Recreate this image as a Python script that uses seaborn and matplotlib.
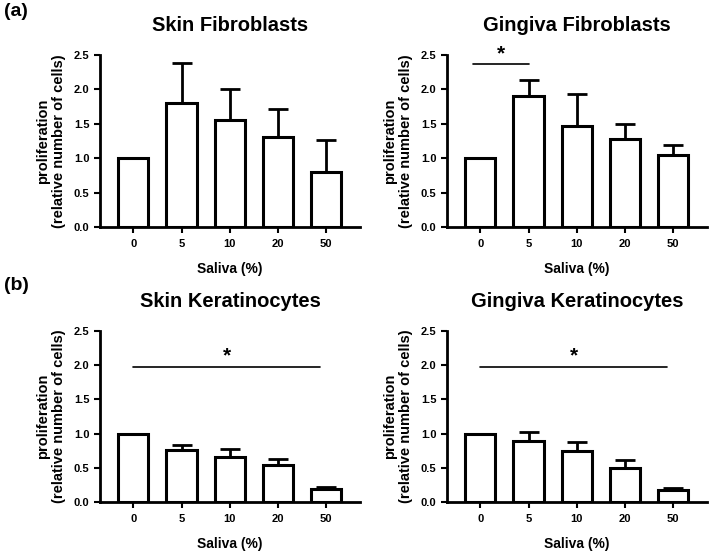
import numpy as np
import pandas as pd
import matplotlib
matplotlib.use("Agg")
import matplotlib.pyplot as plt
import seaborn as sns

# ---- data ----
SALIVA = ["0", "5", "10", "20", "50"]

skin_fib_mean = [1.00, 1.80, 1.55, 1.31, 0.80]
skin_fib_top = [1.00, 2.39, 2.01, 1.72, 1.26]

ging_fib_mean = [1.00, 1.90, 1.47, 1.28, 1.05]
ging_fib_top = [1.00, 2.13, 1.93, 1.50, 1.19]

skin_ker_mean = [1.00, 0.76, 0.66, 0.54, 0.19]
skin_ker_top = [1.00, 0.84, 0.77, 0.63, 0.22]

ging_ker_mean = [1.00, 0.89, 0.75, 0.49, 0.17]
ging_ker_top = [1.00, 1.02, 0.88, 0.61, 0.21]

TITLES = ["Skin Fibroblasts", "Gingiva Fibroblasts",
          "Skin Keratinocytes", "Gingiva Keratinocytes"]
MEANS = [skin_fib_mean, ging_fib_mean, skin_ker_mean, ging_ker_mean]
TOPS = [skin_fib_top, ging_fib_top, skin_ker_top, ging_ker_top]

# significance lines: (start, end, height)
SIG = [None, (-0.15, 1.0, 2.37), (0.0, 3.87, 1.98), (0.0, 3.87, 1.98)]

sns.set_theme(style="ticks")
plt.rcParams["font.family"] = ["Liberation Sans", "DejaVu Sans"]
plt.rcParams["font.weight"] = "bold"
for k in ["text.color", "axes.labelcolor", "xtick.color", "ytick.color",
          "axes.edgecolor"]:
    plt.rcParams[k] = "black"

fig = plt.figure(figsize=(7.09, 5.52), dpi=100)
W, H = 709, 552
boxes = [(100, 55, 360, 227), (447, 55, 707, 227),
         (100, 331, 360, 502), (447, 331, 707, 502)]

for i, (l, t, r, b) in enumerate(boxes):
    ax = fig.add_axes([l / W, 1 - b / H, (r - l) / W, (b - t) / H])
    df = pd.DataFrame({"saliva": SALIVA, "value": MEANS[i]})
    sns.barplot(data=df, x="saliva", y="value", order=SALIVA, color="white",
                edgecolor="black", linewidth=2.2, width=0.63, ax=ax,
                errorbar=None, zorder=2)
    pos = np.arange(len(SALIVA))
    err = np.array(TOPS[i]) - np.array(MEANS[i])
    mask = err > 0.001
    ax.errorbar(pos[mask], np.array(MEANS[i])[mask],
                yerr=[np.zeros(mask.sum()), err[mask]], fmt="none",
                ecolor="black", elinewidth=2.0, capsize=7, capthick=2.0,
                zorder=1)
    if SIG[i] is not None:
        x0, x1, y = SIG[i]
        ax.plot([x0, x1], [y, y], color="black", lw=1.2, clip_on=False)
        ax.text((x0 + x1) / 2, y + 0.01, "*", ha="center", va="bottom",
                fontsize=15, fontweight="bold")

    ax.set_xlim(-0.69, 4.7)
    ax.set_ylim(0, 2.5)
    ax.set_yticks([0, 0.5, 1.0, 1.5, 2.0, 2.5])
    ax.set_yticklabels(["0.0", "0.5", "1.0", "1.5", "2.0", "2.5"])
    ax.tick_params(axis="both", labelsize=8, width=1.5, length=4,
                   direction="out")
    ax.tick_params(axis="x", pad=5)
    for lab in ax.get_xticklabels() + ax.get_yticklabels():
        lab.set_fontweight("bold")
    for s in ["top", "right"]:
        ax.spines[s].set_visible(False)
    for s in ["left", "bottom"]:
        ax.spines[s].set_linewidth(2.0)
    ax.set_xlabel("Saliva (%)", fontsize=10, fontweight="bold", labelpad=9)
    ax.set_ylabel("proliferation\n(relative number of cells)", fontsize=10.5,
                  fontweight="bold", labelpad=6, linespacing=1.1)
    ax.set_title(TITLES[i], fontsize=14.5, fontweight="bold", pad=17)

fig.text(4 / W, 1 - 12 / H, "(a)", fontsize=14, fontweight="bold",
         ha="left", va="center")
fig.text(4 / W, 1 - 285 / H, "(b)", fontsize=14, fontweight="bold",
         ha="left", va="center")

fig.savefig("out.png", dpi=100)
